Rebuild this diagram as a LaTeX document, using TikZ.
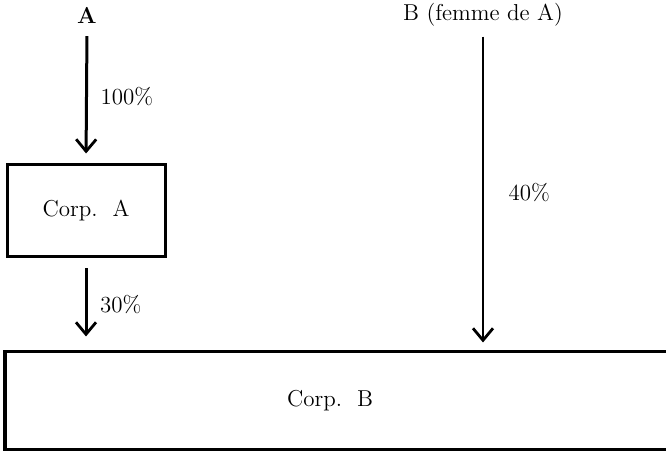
\documentclass[tikz,border=0pt]{standalone}
\usetikzlibrary{arrows.meta, positioning}
\tikzset{
        x=0.5pt, y=-0.5pt, % one unit is one pixel of the scan
        >={Straight Barb[length=6pt, width=10pt, line width=1.4pt]}, % open V heads
        every node/.style={font=\fontsize{11.5}{14}\selectfont},
        corp/.style={draw, line width=1.5pt, inner sep=0pt}, % the company boxes
        share/.style={->, line width=1.5pt}, % a holding arrow
        pct/.style={right, midway, xshift=3pt}, % the percentage beside an arrow
    }
\begin{document}
\begin{tikzpicture}
    \useasboundingbox (0,0) rectangle (666,453);
    \node (A) at (87,15) {\bfseries A};
    \node (B) at (483,15) {B (femme de A)};
    \node[corp, minimum width=79pt, minimum height=46pt] (corpA) at (86,211) {Corp.\ \ A};
    \node[corp, minimum width=350pt, minimum height=49pt] (corpB) at (355,401) {}; % runs off the right edge
    \node (corpBname) at (330,401) {Corp.\ \ B};
    \draw[share, shorten <=3pt, shorten >=5pt] (A.south) -- (corpA.north) node[pct]{100\%};
    \draw[share, shorten <=5pt, shorten >=7pt] (corpA.south) -- (corpA.south |- corpB.north) node[pct]{30\%};
    \draw[share, line width=1pt, shorten <=1.5pt, shorten >=4pt] (B.south) -- (B.south |- corpB.north) node[pct, xshift=6pt]{40\%};
\end{tikzpicture}
\end{document}
